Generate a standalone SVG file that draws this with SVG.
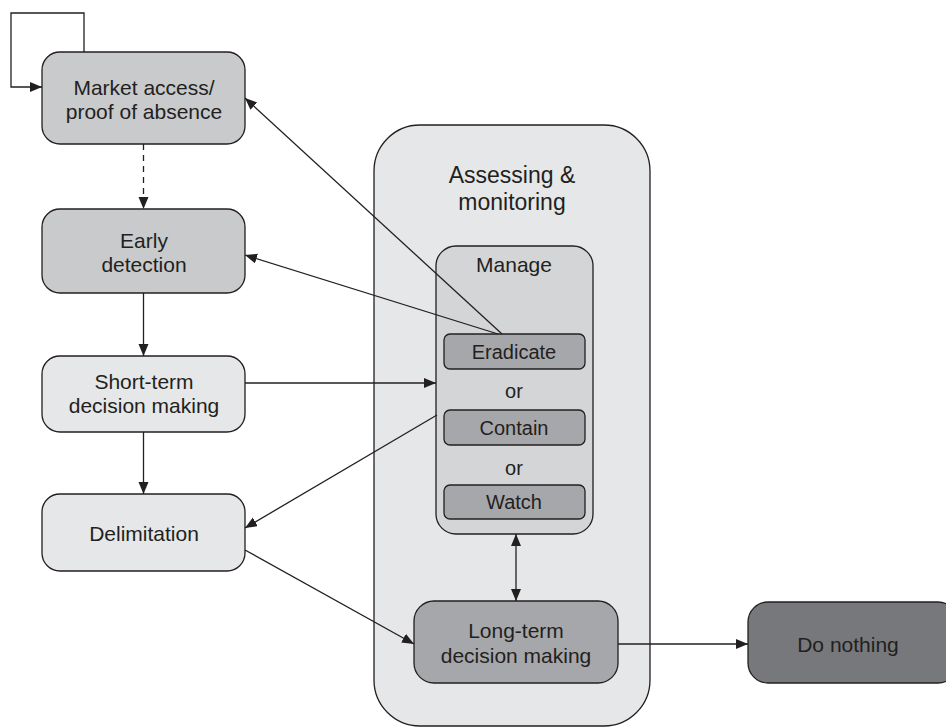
<svg xmlns="http://www.w3.org/2000/svg" width="946" height="727" viewBox="0 0 946 727">
  <defs>
    <marker id="arrow" markerUnits="userSpaceOnUse" markerWidth="13" markerHeight="11" refX="12" refY="5" orient="auto-start-reverse">
      <path d="M0,0 L12,5 L0,10 Z" fill="#231f20"/>
    </marker>
    <style>
      text { font-family: "Liberation Sans", Arial, sans-serif; fill: #231f20; text-anchor: middle; }
      .lbl { font-size: 21px; }
      .big { font-size: 23px; }
      .opt { font-size: 20px; }
      .box { stroke: #231f20; stroke-width: 1.3; }
      .mid { fill: #c9cacc; }
      .light { fill: #e6e7e8; }
      .manage { fill: #d4d5d7; }
      .dark { fill: #a6a7aa; }
      .darkest { fill: #77787b; }
      .conn { fill: none; stroke: #231f20; stroke-width: 1.3; marker-end: url(#arrow); }
    </style>
  </defs>
  <rect width="946" height="727" fill="#ffffff"/>

  <!-- container -->
  <g id="assessing">
    <rect class="box light" x="374" y="125" width="276" height="601" rx="46"/>
    <text class="big" x="512" y="183">Assessing &amp;</text>
    <text class="big" x="512" y="210">monitoring</text>
  </g>

  <g id="manage">
    <rect class="box manage" x="436" y="246" width="157" height="288" rx="20"/>
    <text class="lbl" x="514" y="272">Manage</text>
  </g>
  <g id="eradicate">
    <rect class="box dark" x="444" y="334" width="141" height="35" rx="6"/>
    <text class="opt" x="514" y="359">Eradicate</text>
  </g>
  <text class="opt" x="514" y="398">or</text>
  <g id="contain">
    <rect class="box dark" x="444" y="410" width="141" height="35" rx="6"/>
    <text class="opt" x="514" y="435">Contain</text>
  </g>
  <text class="opt" x="514" y="475">or</text>
  <g id="watch">
    <rect class="box dark" x="444" y="485" width="141" height="34" rx="6"/>
    <text class="opt" x="514" y="509">Watch</text>
  </g>

  <g id="market-access">
    <rect class="box mid" x="42" y="52" width="203" height="92" rx="18"/>
    <text class="lbl" x="144" y="95">Market access/</text>
    <text class="lbl" x="144" y="119">proof of absence</text>
  </g>
  <g id="early-detection">
    <rect class="box mid" x="42" y="209" width="203" height="84" rx="18"/>
    <text class="lbl" x="144" y="248">Early</text>
    <text class="lbl" x="144" y="272">detection</text>
  </g>
  <g id="short-term">
    <rect class="box light" x="42" y="356" width="203" height="76" rx="18"/>
    <text class="lbl" x="144" y="389">Short-term</text>
    <text class="lbl" x="144" y="413">decision making</text>
  </g>
  <g id="delimitation">
    <rect class="box light" x="42" y="494" width="203" height="77" rx="18"/>
    <text class="lbl" x="144" y="541">Delimitation</text>
  </g>
  <g id="long-term">
    <rect class="box dark" x="414" y="601" width="204" height="82" rx="20"/>
    <text class="lbl" x="516" y="638">Long-term</text>
    <text class="lbl" x="516" y="663">decision making</text>
  </g>
  <g id="do-nothing">
    <rect class="box darkest" x="748" y="602" width="210" height="81" rx="20"/>
    <text class="lbl" x="848" y="652">Do nothing</text>
  </g>

  <g id="connectors">
    <path class="conn" d="M84,52 V13 H11 V87 H42"/>
    <path class="conn" d="M143.5,144 V209" stroke-dasharray="6,5"/>
    <path class="conn" d="M143.5,293 V356"/>
    <path class="conn" d="M143.5,432 V494"/>
    <path class="conn" d="M245,383 H436"/>
    <path class="conn" d="M502,334 L245,98"/>
    <path class="conn" d="M498,334 L245,255"/>
    <path class="conn" d="M437,415 L245,528"/>
    <path class="conn" d="M245,550 L414,644"/>
    <path class="conn" d="M516,534 V601" marker-start="url(#arrow)"/>
    <path class="conn" d="M618,644 H748"/>
  </g>
</svg>
